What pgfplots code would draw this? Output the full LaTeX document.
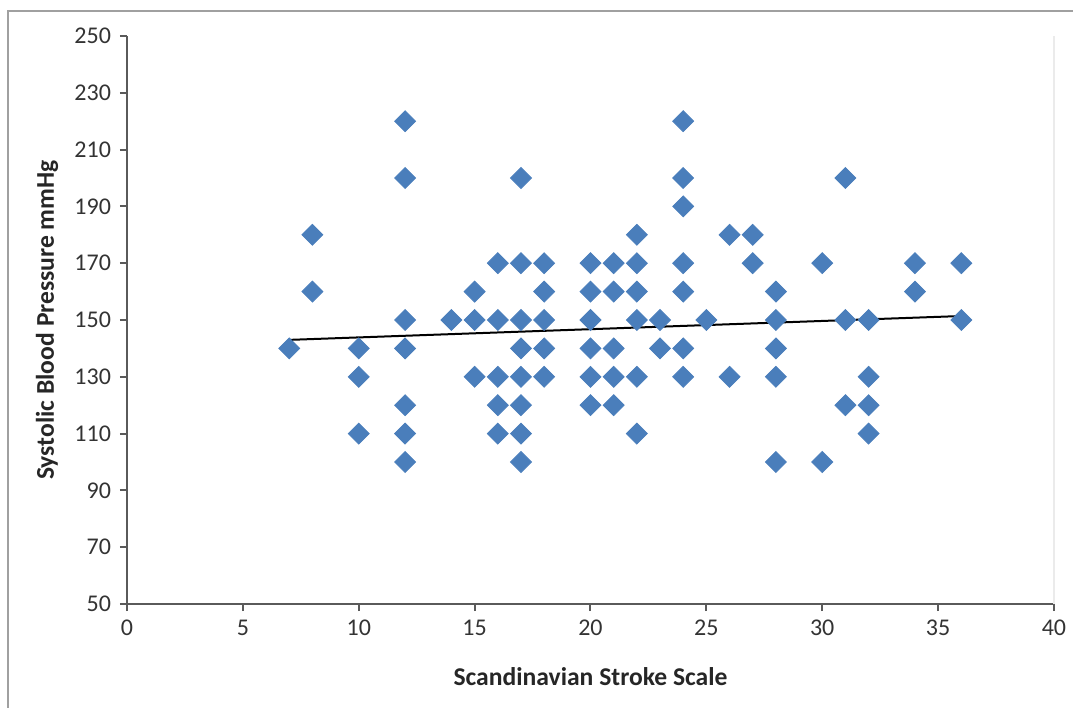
\documentclass[border=0pt]{standalone}
\usepackage{pgfplots}
\pgfplotsset{compat=1.18}
\usepackage{fontspec}
\setmainfont{Carlito}
\definecolor{ptblue}{RGB}{74,126,187}
\definecolor{axgray}{RGB}{90,90,90}
\definecolor{framegray}{RGB}{160,160,160}
\begin{document}
\begin{tikzpicture}[x=1pt,y=1pt]
\useasboundingbox (0,0) rectangle (536.5,354);
% outer chart frame (cut off at right and bottom)
\draw[framegray, line width=1.2pt] (4,-10) rectangle (545,348.5);
\begin{axis}[
    at={(63.5pt,52pt)}, anchor=south west,
    scale only axis, width=463.5pt, height=284pt,
    xmin=0, xmax=40, ymin=50, ymax=250,
    xtick={0,5,...,40}, ytick={50,70,...,250},
    axis x line*=bottom, axis y line*=left,
    axis line style={axgray, line width=1.1pt},
    every outer x axis line/.append style={-}, every outer y axis line/.append style={-},
    tick style={axgray, line width=1pt}, tick align=outside, major tick length=3.5pt,
    ticklabel style={font=\fontsize{12}{14}\selectfont, text=black!80},
    /pgf/number format/assume math mode=true,
    xticklabel style={yshift=-1pt}, yticklabel style={xshift=-1pt},
    xlabel={Scandinavian Stroke Scale}, ylabel={Systolic Blood Pressure mmHg},
    label style={font=\fontsize{12.8}{15}\selectfont\bfseries, text=black!85},
    xlabel style={at={(axis description cs:0.5,-0.1285)}, anchor=center},
    ylabel style={at={(axis description cs:-0.0863,0.5)}, anchor=center},
    clip=false,
]
\draw[black!8, line width=0.6pt] (axis cs:40,50) -- (axis cs:40,250);
\addplot[only marks, mark=square*, mark size=3.7pt,
    mark options={rotate=45, fill=ptblue, draw=ptblue}] coordinates {
(7,140)
(8,180) (8,160)
(10,140) (10,130) (10,110)
(12,220) (12,200) (12,150) (12,140) (12,120) (12,110) (12,100)
(14,150)
(15,160) (15,150) (15,130)
(16,170) (16,150) (16,130) (16,120) (16,110)
(17,200) (17,170) (17,150) (17,140) (17,130) (17,120) (17,110) (17,100)
(18,170) (18,160) (18,150) (18,140) (18,130)
(20,170) (20,160) (20,150) (20,140) (20,130) (20,120)
(21,170) (21,160) (21,140) (21,130) (21,120)
(22,180) (22,170) (22,160) (22,150) (22,130) (22,110)
(23,150) (23,140)
(24,220) (24,200) (24,190) (24,170) (24,160) (24,140) (24,130)
(25,150)
(26,180) (26,130)
(27,180) (27,170)
(28,160) (28,150) (28,140) (28,130) (28,100)
(30,170) (30,100)
(31,200) (31,150) (31,120)
(32,150) (32,130) (32,120) (32,110)
(34,170) (34,160)
(36,170) (36,150)
};
\addplot[black, line width=1pt] coordinates {(7,143) (36,151.4)};
\end{axis}
\end{tikzpicture}
\end{document}
